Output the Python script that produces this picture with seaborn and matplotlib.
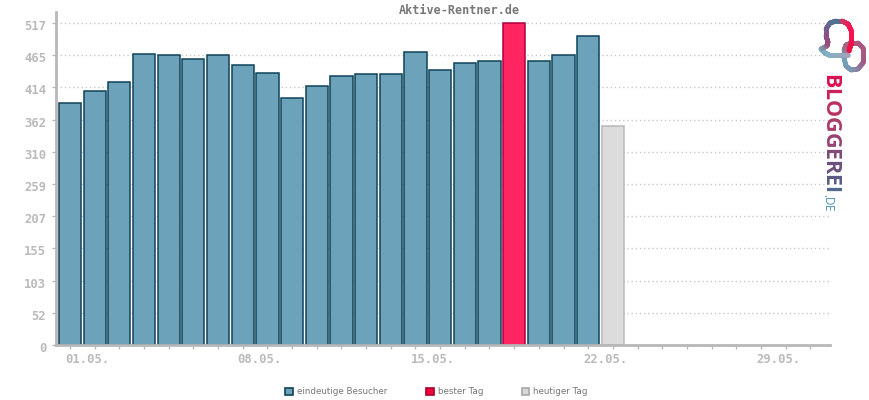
import numpy as np
import pandas as pd
import matplotlib
matplotlib.use("Agg")
import matplotlib.pyplot as plt
from matplotlib.collections import LineCollection
from matplotlib.colors import LinearSegmentedColormap
from matplotlib.transforms import ScaledTranslation
import seaborn as sns

days = list(range(1, 24))
visitors = [389, 408, 422, 468, 465, 460, 465, 449, 436, 396, 416, 432,
            435, 435, 470, 442, 453, 456, 517, 456, 466, 496, 351]
kinds = ["eindeutige Besucher"] * 18 + ["bester Tag"] + ["eindeutige Besucher"] * 3 + ["heutiger Tag"]
y_ticks = [0, 51.7, 103.4, 155.1, 206.8, 258.5, 310.2, 361.9, 413.6, 465.3, 517]
y_labels = ["0", "52", "103", "155", "207", "259", "310", "362", "414", "465", "517"]
x_major = [1, 8, 15, 22, 29]
x_labels = ["01.05.", "08.05.", "15.05.", "22.05.", "29.05."]
title = "Aktive-Rentner.de"

GREY = "#b8b8b8"
fills = {"eindeutige Besucher": "#6ca3bb", "bester Tag": "#ff2560", "heutiger Tag": "#dcdcdc"}
edges = {"eindeutige Besucher": "#0f4358", "bester Tag": "#b0003c", "heutiger Tag": "#b8b8b8"}
order = ["eindeutige Besucher", "bester Tag", "heutiger Tag"]

sns.set_theme(style="white")
plt.rcParams["font.family"] = ["DejaVu Sans Mono"]
W, H = 870, 400
fig = plt.figure(figsize=(W / 100, H / 100), dpi=100)
ax = fig.add_axes([56 / W, (H - 345) / H, (830 - 56) / W, (345 - 12) / H])

df = pd.DataFrame({"day": days, "visitors": visitors, "kind": kinds})
sns.barplot(data=df, x="day", y="visitors", hue="kind", hue_order=order, palette=fills,
            dodge=False, native_scale=True, width=0.9, saturation=1,
            linewidth=1.1, edgecolor="#0f4358", legend=False, ax=ax, zorder=2)
for kind, cont in zip(order, ax.containers):
    for p in cont:
        p.set_edgecolor(edges[kind])

ax.set_xlim(0.433, 31.8)
ax.set_ylim(0, 534.7)
ax.set_xlabel("")
ax.set_ylabel("")
ax.set_yticks(y_ticks, y_labels)
ax.set_xticks(x_major, x_labels)
ax.set_xticks(range(1, 32), minor=True)
ax.tick_params(axis="y", length=3, width=1, color=GREY, labelcolor="#bbbbbb", labelsize=8.8, pad=4, left=True)
ax.tick_params(axis="x", which="both", length=3, width=1, color=GREY, bottom=True)
ax.tick_params(axis="x", labelcolor="#bbbbbb", labelsize=8.8, pad=3)
for lab in ax.get_xticklabels():
    lab.set_ha("left")
    lab.set_fontweight("bold")
    lab.set_transform(lab.get_transform() + ScaledTranslation(-5 / 100, 0, fig.dpi_scale_trans))
for lab in ax.get_yticklabels():
    lab.set_fontweight("bold")
    lab.set_transform(lab.get_transform() + ScaledTranslation(0, -2 / 100, fig.dpi_scale_trans))
ax.grid(axis="y", color="#c8c8c8", linestyle=(0, (1, 2)), linewidth=1)
ax.set_axisbelow(True)
sns.despine(ax=ax, top=True, right=True)
for s in ["left", "bottom"]:
    ax.spines[s].set_color(GREY)
    ax.spines[s].set_linewidth(2)
    ax.spines[s].set_zorder(5)

fig.text(459 / W, (H - 11) / H, title, ha="center", va="center", fontsize=8.5,
         fontweight="bold", color="#777777")

# Legend
handles = [plt.Rectangle((0, 0), 1, 1, facecolor=c, edgecolor=e, linewidth=1.2)
           for c, e in [("#6ca3bb", "#0f4358"), ("#f5003c", "#a80030"), ("#d8d8d8", "#a8a8a8")]]
fig.legend(handles, order, ncols=3, loc="center", bbox_to_anchor=(436.5 / W, (H - 392) / H),
           frameon=False, prop={"family": "DejaVu Sans", "size": 6.3}, labelcolor="#777777",
           handlelength=0.9, handleheight=0.9, handletextpad=0.45, columnspacing=4.4,
           borderpad=0, borderaxespad=0)

# Logo on a pixel-coordinate overlay
ov = fig.add_axes([0, 0, 1, 1], zorder=10)
ov.set_xlim(0, W)
ov.set_ylim(H, 0)
ov.axis("off")
ov.patch.set_alpha(0)

def grad_line(pts, colors, lw=3.4):
    pts = np.asarray(pts, float)
    t = np.linspace(0, 1, len(pts))
    u = np.linspace(0, 1, 120)
    xs = np.interp(u, t, pts[:, 0])
    ys = np.interp(u, t, pts[:, 1])
    seg = np.stack([np.c_[xs[:-1], ys[:-1]], np.c_[xs[1:], ys[1:]]], axis=1)
    cmap = LinearSegmentedColormap.from_list("g", colors)
    lc = LineCollection(seg, colors=cmap(u[:-1]), linewidths=lw, capstyle="round")
    ov.add_collection(lc)

ring = [(846, 45), (851, 43), (858, 43), (863, 48), (863, 63), (858, 69), (851, 70), (846, 66), (844, 58), (844, 50), (846, 45)]
grad_line(ring, ["#a8607f", "#b0557f", "#a25a85", "#7d93ae", "#6fa3bb", "#a8607f"])
grad_line([(821, 49), (825, 53), (829, 55), (840, 55), (848, 55)], ["#6fa8bd", "#84b0c4", "#a3a3b8"])
grad_line([(821, 49), (827, 46), (828, 42), (826, 36), (826, 29), (830, 23), (836, 21), (842, 21)],
          ["#7aaabd", "#9a4a78", "#8a5085", "#5a6f92", "#4d7390"])
grad_line([(842, 21), (848, 24), (851, 30), (851, 44), (849, 51)], ["#c8406a", "#ff1050", "#f01048"])

letters = "BLOGGEREI"
cols = ["#dc1050", "#cc2058", "#b8305f", "#a83a68", "#964272", "#7e4a7a", "#6a5080", "#5a5a85", "#4f6a8e"]
y = 74.0
r = fig.canvas.get_renderer()
for ch, c in zip(letters, cols):
    t = ov.text(830, y, ch, rotation=-90, ha="center", va="top", fontsize=15.5,
                fontweight="bold", family="Open Sans", color=c)
    y += t.get_window_extent(r).height - 0.1
y += 1
for ch in ".DE":
    t = ov.text(827, y, ch, rotation=-90, ha="center", va="top", fontsize=8.5,
                family="Open Sans", color="#4d8fae")
    y += t.get_window_extent(r).height - 0.5

fig.savefig("out.png", dpi=100)
